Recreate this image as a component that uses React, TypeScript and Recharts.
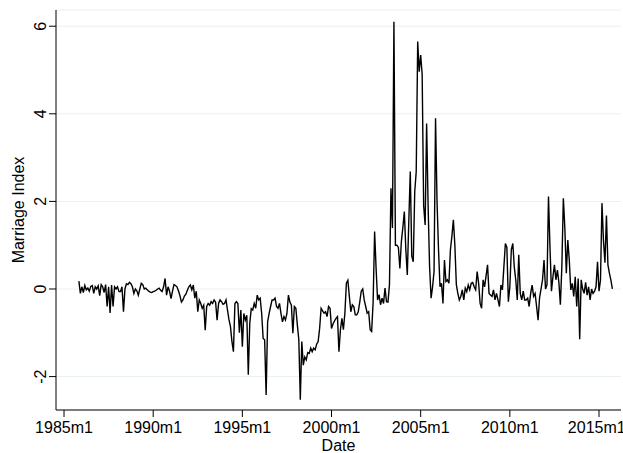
import { LineChart, Line, XAxis, YAxis, CartesianGrid } from 'recharts'

// monthly index, first observation 1985m11
const firstYear = 1985
const firstMonth = 11

const y1985 = [0.18, -0.1]
const y1986 = [0.05, -0.08, 0.08, -0.02, 0.02, -0.05, 0.06, 0.08, -0.1, 0.05, 0.0, 0.07]
const y1987 = [-0.15, 0.1, 0.05, -0.08, 0.1, -0.4, 0.05, -0.55, 0.09, -0.4, 0.05, 0.0]
const y1988 = [0.05, -0.06, -0.06, 0.05, -0.52, 0.0, 0.12, 0.1, 0.15, 0.12, 0.05, -0.1]
const y1989 = [0.0, -0.04, -0.14, 0.0, 0.13, 0.1, 0.0, 0.02, -0.02, -0.05, -0.07, -0.08]
const y1990 = [-0.06, -0.05, -0.03, 0.0, 0.02, -0.03, -0.06, 0.05, 0.24, -0.14, 0.05, -0.05]
const y1991 = [-0.22, -0.05, 0.1, 0.08, 0.05, -0.04, -0.15, -0.3, -0.25, -0.16, -0.12, -0.03]
const y1992 = [0.05, 0.09, -0.02, 0.09, -0.21, -0.05, -0.52, -0.25, -0.33, -0.44, -0.37, -0.94]
const y1993 = [-0.4, -0.33, -0.37, -0.29, -0.33, -0.25, -0.3, -0.71, -0.33, -0.25, -0.29, -0.35]
const y1994 = [-0.33, -0.25, -0.48, -0.7, -0.86, -1.2, -1.43, -0.33, -0.29, -0.33, -1.0, -0.48]
const y1995 = [-1.32, -0.56, -0.71, -0.6, -1.96, -0.78, -0.45, -0.48, -0.33, -0.44, -0.14, -0.25]
const y1996 = [-0.21, -0.56, -1.13, -1.16, -2.42, -0.75, -0.56, -0.4, -0.25, -0.25, -0.21, -0.4]
const y1997 = [-0.44, -0.33, -0.56, -0.75, -0.63, -0.71, -0.56, -0.14, -0.3, -0.37, -1.01, -0.4]
const y1998 = [-0.44, -0.82, -1.16, -2.53, -1.2, -1.74, -1.55, -1.62, -1.45, -1.47, -1.35, -1.43]
const y1999 = [-1.35, -1.39, -1.26, -1.2, -0.9, -0.44, -0.5, -0.55, -0.52, -0.63, -0.4, -0.44]
const y2000 = [-0.9, -0.8, -0.73, -0.67, -0.63, -1.43, -0.93, -0.67, -0.93, -0.55, 0.13, 0.2]
const y2001 = [-0.17, -0.52, -0.36, -0.4, -0.59, -0.59, -0.52, -0.3, -0.05, 0.0, -0.25, -0.4]
const y2002 = [-0.55, -0.52, -0.93, -0.97, -0.3, 1.31, 0.47, -0.25, -0.13, -0.36, -0.21, -0.33]
const y2003 = [0.02, -0.29, -0.3, 0.1, 2.3, 1.39, 6.1, 1.0, 1.0, 0.95, 0.47, 1.08]
const y2004 = [1.4, 1.77, 0.9, 0.32, 1.54, 2.68, 0.75, 0.62, 2.22, 2.68, 5.65, 4.96]
const y2005 = [5.34, 4.89, 1.9, 1.46, 3.78, 1.9, 0.5, -0.21, 0.05, 0.4, 3.9, 2.0]
const y2006 = [0.9, 0.05, 0.13, -0.33, 0.66, 0.17, 0.21, 0.13, 0.89, 1.2, 1.58, 1.0]
const y2007 = [0.1, -0.1, -0.25, -0.17, -0.02, -0.25, 0.02, -0.06, 0.09, -0.02, 0.13, 0.15]
const y2008 = [0.05, -0.02, 0.4, 0.13, -0.33, -0.44, 0.21, 0.05, 0.3, 0.55, -0.1, -0.14]
const y2009 = [-0.17, -0.02, -0.25, -0.1, -0.25, -0.4, 0.09, -0.02, 0.51, 1.04, 0.95, -0.29]
const y2010 = [0.05, 0.9, 1.04, 0.5, 0.2, -0.25, 0.78, -0.1, -0.25, -0.05, -0.25, -0.25]
const y2011 = [-0.21, -0.4, -0.1, 0.09, -0.17, -0.1, -0.4, -0.71, -0.2, 0.0, 0.21, 0.66]
const y2012 = [0.0, 0.1, 2.11, 0.97, -0.05, 0.28, 0.55, 0.21, 0.43, 0.15, -0.36, 0.51]
const y2013 = [2.07, 1.4, 0.36, 1.12, 0.66, -0.02, 0.13, -0.17, 0.28, -0.4, 0.24, -1.15]
const y2014 = [0.21, 0.0, -0.1, 0.15, -0.14, 0.05, -0.25, 0.0, -0.1, -0.05, 0.05, 0.62]
const y2015 = [-0.05, 0.2, 1.96, 1.1, 0.6, 1.68, 0.55, 0.36, 0.2, 0.0]

const years = [
  y1985, y1986, y1987, y1988, y1989, y1990, y1991, y1992, y1993, y1994, y1995,
  y1996, y1997, y1998, y1999, y2000, y2001, y2002, y2003, y2004, y2005, y2006,
  y2007, y2008, y2009, y2010, y2011, y2012, y2013, y2014, y2015,
]

const xTicks = [0, 60, 120, 180, 240, 300, 360] // months since 1985m1
const yTicks = [-2, 0, 2, 4, 6]

const data = years.flat().map((v, i) => ({ t: (firstYear - 1985) * 12 + firstMonth - 1 + i, v }))

const fmtDate = (t: number) => `${1985 + Math.floor(t / 12)}m${(t % 12) + 1}`

const font = '"Liberation Sans", Arial, Helvetica, sans-serif'

const YTick = ({ x, y, payload }: any) => (
  <text x={x} y={y} transform={`rotate(-90 ${x} ${y})`} textAnchor="middle" fontSize={16} fill="#000" fontFamily={font}>
    {payload.value}
  </text>
)

export default function App() {
  return (
    <div style={{ position: 'absolute', left: 0, top: 0, width: 623, height: 453, background: '#fff', fontFamily: font }}>
      <LineChart width={623} height={453} data={data} margin={{ top: 10, right: 2, bottom: 0, left: 0 }}>
        <CartesianGrid vertical={false} stroke="#e9f0f2" strokeWidth={1} />
        <XAxis
          type="number" dataKey="t" domain={[-5.4, 374.8]} ticks={xTicks} tickFormatter={fmtDate}
          height={43} tickSize={7} tickMargin={5} allowDataOverflow
          axisLine={{ stroke: '#000' }} tickLine={{ stroke: '#000' }}
          tick={{ fontSize: 16, fill: '#000', fontFamily: font }}
          label={{ value: 'Date', position: 'insideBottom', offset: 2, fontSize: 16, fill: '#000', fontFamily: font }}
        />
        <YAxis
          type="number" domain={[-2.763, 6.37]} ticks={yTicks} allowDataOverflow
          width={56} tickSize={7} tickMargin={3}
          axisLine={{ stroke: '#000' }} tickLine={{ stroke: '#000' }}
          tick={<YTick />}
          label={{ value: 'Marriage Index', angle: -90, position: 'insideLeft', offset: 18, fontSize: 16, fill: '#000', fontFamily: font, style: { textAnchor: 'middle' } }}
        />
        <Line type="linear" dataKey="v" stroke="#000" strokeWidth={1.4} dot={false} isAnimationActive={false} />
      </LineChart>
    </div>
  )
}
